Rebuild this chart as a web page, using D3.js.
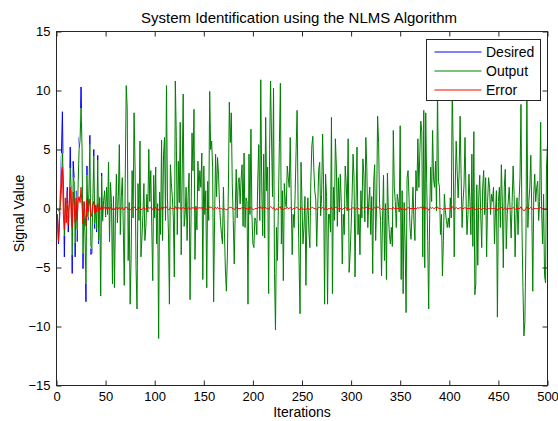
<!DOCTYPE html>
<html>
<head>
<meta charset="utf-8">
<script src="https://cdn.jsdelivr.net/npm/d3@7/dist/d3.min.js"></script>
<style>
  body { margin: 0; background: #fff; }
  text { font-family: "Liberation Sans", Arial, Helvetica, sans-serif; fill: #000; }
</style>
</head>
<body>
<svg id="chart" width="558" height="421"></svg>
<script>
// Desired response d(n) of the unknown system, n = 1..500
const desired = [
  -0.5,-3.0,-1.2,1.5,4.6,8.2,2.0,-4.1,0.5,-1.0,1.8,-2.0,0.8,5.2,1.0,-5.5,4.0,2.6,-4.1,1.5,-2.8,2.5,6.0,6.3,10.3,
  5.4,-5.1,0.5,-2.5,-7.9,3.6,-1.0,1.5,6.2,-3.9,-3.8,1.0,5.0,-1.7,0.5,-2.0,4.5,-3.0,1.0,-7.4,3.0,-1.1,0.8,1.5,-0.7,
  1.8,-0.5,3.9,-2.8,2.2,0.5,-6.4,1.0,-6.7,-0.8,2.9,-1.2,1.0,5.4,-2.2,1.0,2.6,-1.5,-6.5,2.5,10.4,8.5,-4.4,0.5,-8.1,
  -4.0,3.2,-0.8,8.1,3.6,-5.0,-8.5,2.1,-1.0,5.7,-4.1,-2.5,-0.5,2.1,-2.7,-1.6,1.2,-0.3,5.0,0.6,3.2,-1.5,-6.1,2.8,-0.8,
  3.5,-3.0,0.4,-11.0,1.4,-2.2,5.8,-2.7,4.6,6.0,-1.0,10.4,0.9,-2.0,-8.1,3.7,2.1,0.9,-0.8,-5.8,10.8,6.1,-2.2,4.0,0.5,
  7.3,-3.9,2.9,9.7,-1.5,-0.5,1.8,-2.7,1.0,3.0,-7.7,-0.8,6.4,3.2,8.4,-4.3,0.2,-1.8,4.0,1.5,3.2,1.8,4.7,-6.0,3.6,
  -0.5,1.5,-6.7,2.3,-1.0,9.9,5.0,5.7,3.5,-7.9,-0.8,4.6,1.0,4.3,2.9,0.4,-1.1,-2.2,-3.0,1.8,-2.0,-5.2,-7.0,-4.1,1.5,
  9.0,5.6,8.1,2.1,-1.0,-4.7,-0.2,3.3,-0.8,2.2,2.6,0.4,2.5,3.7,-1.5,4.7,-1.6,0.9,0.6,-8.1,4.6,-0.5,6.7,-0.5,-3.0,
  -3.3,-0.8,-1.0,-2.2,2.5,5.4,-1.0,10.9,1.8,-2.3,4.6,-2.5,7.7,1.5,3.5,-7.2,5.0,10.8,5.8,1.0,10.2,-5.5,-10.3,-1.6,-4.4,
  0.5,5.6,10.6,-3.0,1.5,-6.1,2.1,0.6,0.1,3.6,2.6,1.8,6.0,0.9,-3.9,-0.5,-1.6,1.2,4.9,8.3,0.6,-4.4,-8.9,3.9,0.4,
  -3.0,-1.6,1.0,-6.5,-0.5,0.9,-1.9,-3.3,2.3,5.3,6.1,3.5,1.5,0.8,-3.2,0.1,3.3,3.9,-0.6,1.2,6.3,2.0,-8.1,2.9,1.0,
  -8.1,-0.5,-0.5,-2.0,7.7,-7.2,1.8,-1.0,5.9,3.6,-1.5,2.6,-0.3,2.9,0.5,-4.7,-0.5,-2.2,3.6,2.1,-0.2,5.9,-5.4,-3.9,-1.6,
  1.0,4.6,2.6,-5.8,0.2,5.2,-2.2,-0.5,-3.9,1.5,-0.8,4.2,2.9,-1.1,6.0,3.5,-1.6,0.6,1.8,-2.2,1.0,-5.5,2.3,3.7,-2.7,
  0.3,7.8,5.6,0.4,-1.0,-5.7,-1.0,2.8,-4.4,0.4,-6.0,3.0,-0.5,-2.2,-3.0,-1.6,-3.2,6.6,1.8,0.6,-1.6,1.2,0.6,-0.3,7.0,
  -6.0,1.5,-7.2,0.5,-3.0,-8.8,2.6,3.2,0.9,-1.6,-2.6,-0.5,1.8,-1.1,-2.7,3.2,1.5,5.9,1.8,4.7,7.4,6.5,-4.1,8.3,-5.0,
  8.1,2.1,-2.7,-8.5,-0.5,3.5,0.6,6.6,2.5,1.8,4.0,-0.2,10.0,2.3,1.8,-2.2,-0.5,-5.7,-2.7,1.2,-0.2,-1.0,-1.6,-0.8,-1.6,
  0.9,-0.8,10.4,4.6,-4.1,1.8,5.7,3.2,0.9,3.0,7.8,2.9,-1.6,0.6,2.0,6.0,1.2,-2.2,-0.5,2.9,0.6,-2.2,4.6,-3.2,6.5,
  -7.3,-6.4,2.0,-4.8,1.0,2.8,-0.5,-3.3,1.8,3.2,-0.5,2.6,-4.1,0.6,2.6,1.8,-0.5,1.2,0.6,1.8,-3.0,-0.3,1.5,-9.2,0.6,
  1.8,-1.6,3.7,0.6,-5.0,1.8,3.3,-3.4,-0.5,0.6,1.8,-0.2,-2.5,0.6,3.6,1.2,-4.1,-0.5,0.9,-2.2,0.6,2.6,8.8,-1.6,-6.7,
  -10.8,-9.5,-3.0,10.0,-1.6,0.6,1.8,4.5,-0.2,-7.0,1.2,2.9,0.6,1.8,2.3,-1.0,0.6,7.3,-0.2,-3.0,1.2,-5.7,-6.3,3.6,5.4
];

// Adaptive filter output y(n)
const output = [
  0.0,-0.2,-0.2,0.3,1.6,4.7,2.5,-2.3,-0.4,0.2,0.3,-0.6,0.3,3.4,1.6,-3.9,2.6,2.3,-2.9,0.6,-1.8,1.9,5.0,5.8,8.5,
  5.2,-3.8,-0.1,-2.1,-6.4,2.8,-0.7,1.3,5.4,-3.2,-3.4,0.7,4.4,-1.3,0.3,-1.7,4.1,-2.7,0.9,-7.3,2.7,-1.0,0.7,1.4,-0.6,
  1.8,-0.5,3.9,-2.8,2.2,0.5,-6.4,1.0,-6.7,-0.8,2.9,-1.2,1.0,5.4,-2.2,1.0,2.6,-1.5,-6.5,2.5,10.4,8.5,-4.4,0.5,-8.1,
  -4.0,3.2,-0.8,8.1,3.6,-5.0,-8.5,2.1,-1.0,5.7,-4.1,-2.5,-0.5,2.1,-2.7,-1.6,1.2,-0.3,5.0,0.6,3.2,-1.5,-6.1,2.8,-0.8,
  3.5,-3.0,0.4,-11.0,1.4,-2.2,5.8,-2.7,4.6,6.0,-1.0,10.4,0.9,-2.0,-8.1,3.7,2.1,0.9,-0.8,-5.8,10.8,6.1,-2.2,4.0,0.5,
  7.3,-3.9,2.9,9.7,-1.5,-0.5,1.8,-2.7,1.0,3.0,-7.7,-0.8,6.4,3.2,8.4,-4.3,0.2,-1.8,4.0,1.5,3.2,1.8,4.7,-6.0,3.6,
  -0.5,1.5,-6.7,2.3,-1.0,9.9,5.0,5.7,3.5,-7.9,-0.8,4.6,1.0,4.3,2.9,0.4,-1.1,-2.2,-3.0,1.8,-2.0,-5.2,-7.0,-4.1,1.5,
  9.0,5.6,8.1,2.1,-1.0,-4.7,-0.2,3.3,-0.8,2.2,2.6,0.4,2.5,3.7,-1.5,4.7,-1.6,0.9,0.6,-8.1,4.6,-0.5,6.7,-0.5,-3.0,
  -3.3,-0.8,-1.0,-2.2,2.5,5.4,-1.0,10.9,1.8,-2.3,4.6,-2.5,7.7,1.5,3.5,-7.2,5.0,10.8,5.8,1.0,10.2,-5.5,-10.3,-1.6,-4.4,
  0.5,5.6,10.6,-3.0,1.5,-6.1,2.1,0.6,0.1,3.6,2.6,1.8,6.0,0.9,-3.9,-0.5,-1.6,1.2,4.9,8.3,0.6,-4.4,-8.9,3.9,0.4,
  -3.0,-1.6,1.0,-6.5,-0.5,0.9,-1.9,-3.3,2.3,5.3,6.1,3.5,1.5,0.8,-3.2,0.1,3.3,3.9,-0.6,1.2,6.3,2.0,-8.1,2.9,1.0,
  -8.1,-0.5,-0.5,-2.0,7.7,-7.2,1.8,-1.0,5.9,3.6,-1.5,2.6,-0.3,2.9,0.5,-4.7,-0.5,-2.2,3.6,2.1,-0.2,5.9,-5.4,-3.9,-1.6,
  1.0,4.6,2.6,-5.8,0.2,5.2,-2.2,-0.5,-3.9,1.5,-0.8,4.2,2.9,-1.1,6.0,3.5,-1.6,0.6,1.8,-2.2,1.0,-5.5,2.3,3.7,-2.7,
  0.3,7.8,5.6,0.4,-1.0,-5.7,-1.0,2.8,-4.4,0.4,-6.0,3.0,-0.5,-2.2,-3.0,-1.6,-3.2,6.6,1.8,0.6,-1.6,1.2,0.6,-0.3,7.0,
  -6.0,1.5,-7.2,0.5,-3.0,-8.8,2.6,3.2,0.9,-1.6,-2.6,-0.5,1.8,-1.1,-2.7,3.2,1.5,5.9,1.8,4.7,7.4,6.5,-4.1,8.3,-5.0,
  8.1,2.1,-2.7,-8.5,-0.5,3.5,0.6,6.6,2.5,1.8,4.0,-0.2,10.0,2.3,1.8,-2.2,-0.5,-5.7,-2.7,1.2,-0.2,-1.0,-1.6,-0.8,-1.6,
  0.9,-0.8,10.4,4.6,-4.1,1.8,5.7,3.2,0.9,3.0,7.8,2.9,-1.6,0.6,2.0,6.0,1.2,-2.2,-0.5,2.9,0.6,-2.2,4.6,-3.2,6.5,
  -7.3,-6.4,2.0,-4.8,1.0,2.8,-0.5,-3.3,1.8,3.2,-0.5,2.6,-4.1,0.6,2.6,1.8,-0.5,1.2,0.6,1.8,-3.0,-0.3,1.5,-9.2,0.6,
  1.8,-1.6,3.7,0.6,-5.0,1.8,3.3,-3.4,-0.5,0.6,1.8,-0.2,-2.5,0.6,3.6,1.2,-4.1,-0.5,0.9,-2.2,0.6,2.6,8.8,-1.6,-6.7,
  -10.8,-9.5,-3.0,10.0,-1.6,0.6,1.8,4.5,-0.2,-7.0,1.2,2.9,0.6,1.8,2.3,-1.0,0.6,7.3,-0.2,-3.0,1.2,-5.7,-6.3,3.6,5.4
];

// Estimation error e(n)
const error = [
  -0.5,-2.8,-1.0,1.2,3.0,3.5,-0.5,-1.8,0.9,-1.2,1.5,-1.4,0.5,1.8,-0.6,-1.6,1.4,0.3,-1.2,0.9,-1.0,0.6,1.0,0.5,1.8,
  0.2,-1.3,0.6,-0.4,-1.5,0.8,-0.3,0.2,0.8,-0.7,-0.4,0.3,0.6,-0.4,0.2,-0.3,0.4,-0.3,0.1,-0.1,0.3,-0.1,0.1,0.1,-0.1,
  0.1,-0.1,0.1,-0.1,0.1,0,-0.1,0.1,-0.1,0,0.1,-0.1,0,0.1,-0.1,0,0.1,-0.1,-0.1,0.1,0.1,0.1,-0.1,0,-0.1,
  -0.1,0.1,0,0.1,0.1,-0.1,-0.1,0.1,0,0.1,-0.1,-0.1,0,0.1,-0.1,0,0,0,0.1,0,0.1,0,-0.1,0.1,0,
  0.1,-0.1,0,-0.15,0,-0.1,0.1,-0.1,0.1,0.1,0,0.15,0,-0.1,-0.1,0.1,0,0,0,-0.1,0.15,0.1,-0.1,0.1,0,
  0.1,-0.1,0,0.1,0,0,0,-0.1,0,0.1,-0.1,0,0.1,0,0.1,-0.1,0,0,0.1,0,0.1,0,0.1,-0.1,0.1,
  0,0,-0.1,0,0,0.15,0.1,0.1,0,-0.1,0,0.1,0,0.1,0,0,0,0,-0.1,0,0,-0.1,-0.1,-0.1,0,
  0.1,0.1,0.1,0,0,-0.1,0,0.1,0,0,0,0,0,0.1,0,0.1,0,0,0,-0.1,0.1,0,0.1,0,-0.1,
  -0.1,0,0,0,0,0.1,0,0.15,0,0,0.1,0,0.1,0,0,-0.1,0.1,0.15,0.1,0,0.1,-0.1,-0.15,0,-0.1,
  0,0.1,0.15,-0.1,0,-0.1,0,0,0,0.1,0,0,0.1,0,-0.1,0,0,0,0.1,0.1,0,-0.1,-0.1,0.1,0,
  -0.1,0,0,-0.1,0,0,0,-0.1,0,0.1,0.1,0,0,0,-0.1,0,0.1,0.1,0,0,0.1,0,-0.1,0.1,0,
  -0.1,0,0,0,0.1,-0.1,0,0,0.1,0.1,0,0,0,0,0,-0.1,0,0,0.1,0,0,0.1,-0.1,-0.1,0,
  0,0.1,0,-0.1,0,0.1,0,0,-0.1,0,0,0.1,0,0,0.1,0.1,0,0,0,0,0,-0.1,0,0.1,0,
  0,0.15,0.1,0,0,-0.1,0,0,-0.1,0,-0.1,0,0,0,0,0,-0.1,0.1,0,0,0,0,0,0,0.1,
  -0.1,0,-0.1,0,0,-0.15,0,0.1,0,0,0,0,0,0,0,0,0,0.1,0,0.1,0.1,0.1,-0.1,0.15,-0.1,
  0.1,0,0,-0.15,0,0.1,0,0.1,0,0,0.1,0,0.15,0,0,0,0,-0.1,0,0,0,0,0,0,0,
  0,0,0.15,0.1,-0.1,0,0.1,0,0,0,0.1,0,0,0,0,0.1,0,0,0,0,0,0,0.1,0,0.1,
  -0.1,-0.1,0,-0.1,0,0,0,-0.1,0,0,0,0,-0.1,0,0,0,0,0,0,0,0,0,0,-0.15,0,
  0,0,0.1,0,-0.1,0,0.1,-0.1,0,0,0,0,0,0,0.1,0,-0.1,0,0,0,0,0,0.15,0,-0.1,
  -0.2,-0.15,0,0.15,0,0,0,0.1,0,-0.1,0,0,0,0,0,0,0,0.1,0,0,0,-0.1,-0.1,0,0.1
];

const seriesNames = ["Desired", "Output", "Error"];
const xTickValues = [0, 50, 100, 150, 200, 250, 300, 350, 400, 450, 500];
const yTickValues = [-15, -10, -5, 0, 5, 10, 15];

const plot = { left: 56.5, right: 547.5, top: 31.5, bottom: 385.5 };
const colors = { Desired: "#0000ff", Output: "#008000", Error: "#ff0000" };
const fontStack = '"Liberation Sans", Arial, Helvetica, sans-serif';

const svg = d3.select("#chart");

const x = d3.scaleLinear().domain([0, 500]).range([plot.left, plot.right]);
const y = d3.scaleLinear().domain([-15, 15]).range([plot.bottom, plot.top]);

// white axes background
svg.append("rect")
  .attr("x", plot.left).attr("y", plot.top)
  .attr("width", plot.right - plot.left).attr("height", plot.bottom - plot.top)
  .attr("fill", "#fff");

// signal traces, sample n plotted at iteration n
const line = d3.line()
  .x((d, i) => x(i + 1))
  .y(d => y(d));

const traceLayer = svg.append("g");

traceLayer.append("path")
  .attr("d", line(desired))
  .attr("fill", "none")
  .attr("stroke", colors.Desired)
  .attr("stroke-width", 1);

// the output trace is opaque: it hides the desired trace beneath it
traceLayer.append("path")
  .attr("d", line(output))
  .attr("fill", "none")
  .attr("stroke", "#fff")
  .attr("stroke-width", 2.4);

traceLayer.append("path")
  .attr("d", line(output))
  .attr("fill", "none")
  .attr("stroke", colors.Output)
  .attr("stroke-width", 1);

traceLayer.append("path")
  .attr("d", line(error))
  .attr("fill", "none")
  .attr("stroke", colors.Error)
  .attr("stroke-width", 1);

// axes: ticks point inward on all four sides
const axisColor = "#262626";
function styleAxis(g) {
  g.select(".domain").remove();
  g.selectAll(".tick line").attr("stroke", axisColor);
  g.selectAll(".tick text")
    .style("font-family", fontStack)
    .style("font-size", "13px")
    .attr("fill", "#000");
}

svg.append("g")
  .attr("transform", `translate(0,${plot.bottom})`)
  .call(d3.axisBottom(x).tickValues(xTickValues).tickSizeInner(-5).tickSizeOuter(0).tickPadding(6).tickFormat(d3.format("d")))
  .call(styleAxis);

svg.append("g")
  .attr("transform", `translate(0,${plot.top})`)
  .call(d3.axisTop(x).tickValues(xTickValues).tickSizeInner(-5).tickSizeOuter(0).tickFormat(""))
  .call(styleAxis);

svg.append("g")
  .attr("transform", `translate(${plot.left},0)`)
  .call(d3.axisLeft(y).tickValues(yTickValues).tickSizeInner(-5).tickSizeOuter(0).tickPadding(6).tickFormat(d3.format("d")))
  .call(styleAxis);

svg.append("g")
  .attr("transform", `translate(${plot.right},0)`)
  .call(d3.axisRight(y).tickValues(yTickValues).tickSizeInner(-5).tickSizeOuter(0).tickFormat(""))
  .call(styleAxis);

// axes box
svg.append("rect")
  .attr("x", plot.left).attr("y", plot.top)
  .attr("width", plot.right - plot.left).attr("height", plot.bottom - plot.top)
  .attr("fill", "none")
  .attr("stroke", axisColor)
  .attr("stroke-width", 1);

// title and axis labels
svg.append("text")
  .attr("x", (plot.left + plot.right) / 2 - 3)
  .attr("y", 23)
  .attr("text-anchor", "middle")
  .style("font-size", "15px")
  .text("System Identification using the NLMS Algorithm");

svg.append("text")
  .attr("x", (plot.left + plot.right) / 2)
  .attr("y", 417)
  .attr("text-anchor", "middle")
  .style("font-size", "14px")
  .text("Iterations");

svg.append("text")
  .attr("transform", `translate(24,${(plot.top + plot.bottom) / 2 + 5}) rotate(-90)`)
  .attr("text-anchor", "middle")
  .style("font-size", "14px")
  .text("Signal Value");

// legend
const legend = svg.append("g").attr("transform", "translate(426.5,39.5)");
legend.append("rect")
  .attr("width", 114).attr("height", 61)
  .attr("fill", "#fff")
  .attr("stroke", axisColor)
  .attr("stroke-width", 1);

const rows = legend.selectAll("g.row")
  .data(seriesNames)
  .join("g")
  .attr("class", "row")
  .attr("transform", (d, i) => `translate(0,${12.5 + i * 19})`);

rows.append("line")
  .attr("x1", 8).attr("x2", 55)
  .attr("stroke", d => colors[d])
  .attr("stroke-width", 1);

rows.append("text")
  .attr("x", 59.5)
  .attr("y", 5)
  .style("font-size", "14px")
  .text(d => d);
</script>
</body>
</html>
